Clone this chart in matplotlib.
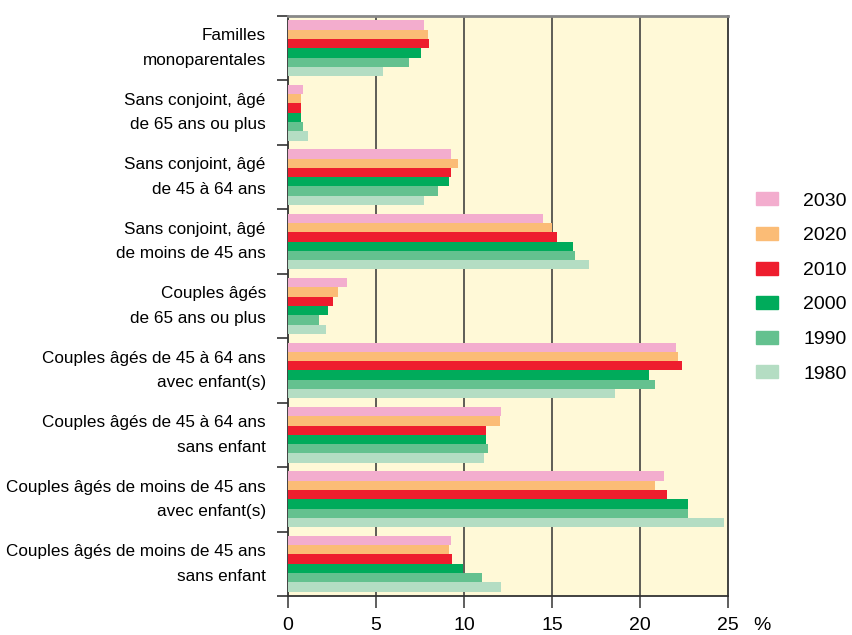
import numpy as np
import matplotlib
matplotlib.use('Agg')
import matplotlib.pyplot as plt
from matplotlib.patches import Patch

plt.rcParams['font.family'] = ['Liberation Sans', 'DejaVu Sans']

categories = ['Familles\nmonoparentales',
              'Sans conjoint, âgé\nde 65 ans ou plus',
              'Sans conjoint, âgé\nde 45 à 64 ans',
              'Sans conjoint, âgé\nde moins de 45 ans',
              'Couples âgés\nde 65 ans ou plus',
              'Couples âgés de 45 à 64 ans\navec enfant(s)',
              'Couples âgés de 45 à 64 ans\nsans enfant',
              'Couples âgés de moins de 45 ans\navec enfant(s)',
              'Couples âgés de moins de 45 ans\nsans enfant']

years = ['2030', '2020', '2010', '2000', '1990', '1980']

v2030 = [7.7, 0.84, 9.24, 14.5, 3.33, 22.03, 12.08, 21.35, 9.24]
v2020 = [7.94, 0.72, 9.64, 15.0, 2.82, 22.14, 12.03, 20.83, 9.13]
v2010 = [8.0, 0.72, 9.24, 15.3, 2.54, 22.37, 11.23, 21.52, 9.3]
v2000 = [7.54, 0.72, 9.13, 16.2, 2.25, 20.5, 11.23, 22.7, 9.93]
v1990 = [6.9, 0.84, 8.5, 16.3, 1.74, 20.83, 11.35, 22.7, 11.0]
v1980 = [5.38, 1.12, 7.7, 17.1, 2.14, 18.6, 11.12, 24.75, 12.08]

colors = ['#F3ADCE', '#FBBC76', '#EE1D2E', '#00AB5B', '#64C18F', '#B4DDC3']
series = [v2030, v2020, v2010, v2000, v1990, v1980]

fig = plt.figure(figsize=(8.52, 6.35), dpi=100)
ax = fig.add_axes([288/852, 1-596/635, 440/852, 580/635])
ax.set_facecolor('#FFF9D7')

y = np.arange(len(categories))
h = 0.144
for j, vals in enumerate(series):
    ax.barh(y + (j - 2.5)*h, vals, height=h, color=colors[j], zorder=3)

ax.set_xlim(0, 25)
ax.set_ylim(8.5, -0.5)
ax.set_xticks([0, 5, 10, 15, 20, 25])
for xv in [5, 10, 15, 20]:
    ax.axvline(xv, color='#333333', lw=1.1, zorder=2)

ax.set_yticks(y)
ax.set_yticklabels(categories, fontsize=12.3, multialignment='right',
                   linespacing=1.8, va='center')
ax.set_yticks(np.arange(-0.5, 9, 1), minor=True)
ax.tick_params(axis='y', which='major', length=0, pad=16)
ax.tick_params(axis='y', which='minor', length=8, width=1.2, color='#333333', direction='out')
ax.tick_params(axis='x', length=8.6, width=1.1, color='#333333', direction='out', labelsize=14, pad=6.5)

for s in ['left', 'right', 'bottom']:
    ax.spines[s].set_color('#333333')
    ax.spines[s].set_linewidth(1.3)
ax.spines['top'].set_color('#888888')
ax.spines['top'].set_linewidth(2)

fig.text(762/852, 1-625/635, '%', fontsize=14, ha='center', va='center')

handles = [Patch(color=c) for c in colors]
fig.legend(handles, years, loc='center left', bbox_to_anchor=(756/852, 1-287.5/635),
           bbox_transform=fig.transFigure, frameon=False, fontsize=14,
           handlelength=1.13, handleheight=0.65, handletextpad=1.29,
           labelspacing=0.89, borderpad=0, borderaxespad=0)

fig.savefig('out.png', dpi=100)
